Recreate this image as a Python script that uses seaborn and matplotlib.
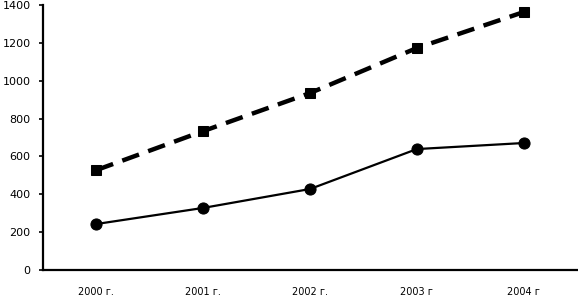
import pandas as pd
import matplotlib
matplotlib.use("Agg")
import matplotlib.pyplot as plt
import seaborn as sns

# ── DATA ──────────────────────────────────────────────────────────
years = ["2000 г.", "2001 г.", "2002 г.", "2003 г", "2004 г"]
upper_series = [528, 734, 935, 1173, 1363]
lower_series = [243, 328, 428, 639, 671]
y_ticks = [0, 200, 400, 600, 800, 1000, 1200, 1400]

df = pd.DataFrame({
    "year": years * 2,
    "value": upper_series + lower_series,
    "series": ["upper"] * len(years) + ["lower"] * len(years),
})
df["x"] = list(range(len(years))) * 2

# ── PLOT ──────────────────────────────────────────────────────────
sns.set_style("white")
plt.rcParams["font.family"] = ["DejaVu Sans"]

fig = plt.figure(figsize=(5.78, 2.98), dpi=100)
ax = fig.add_axes([0.0744, 0.094, 0.924, 0.889])

sns.lineplot(data=df[df["series"] == "upper"], x="x", y="value",
             color="black", linewidth=3.2, marker="s", markersize=6.5,
             markeredgecolor="black", ax=ax,
             linestyle=(0, (4, 2.2)))
sns.lineplot(data=df[df["series"] == "lower"], x="x", y="value",
             color="black", linewidth=1.6, marker="o", markersize=8,
             markeredgecolor="black", ax=ax)

ax.set_xlim(-0.5, len(years) - 0.5)
ax.set_ylim(0, 1400)
ax.set_yticks(y_ticks)
ax.set_xticks(range(len(years)))
ax.set_xticklabels(years, fontsize=7)
ax.tick_params(axis="y", labelsize=8, length=3, width=1.2, direction="out",
               left=True, pad=6, colors="black")
ax.tick_params(axis="x", length=0, pad=12, colors="black")
ax.set_xlabel("")
ax.set_ylabel("")

for side in ["top", "right"]:
    ax.spines[side].set_visible(False)
for side in ["left", "bottom"]:
    ax.spines[side].set_color("black")
    ax.spines[side].set_linewidth(1.6)

plt.savefig("out.png", dpi=100)
